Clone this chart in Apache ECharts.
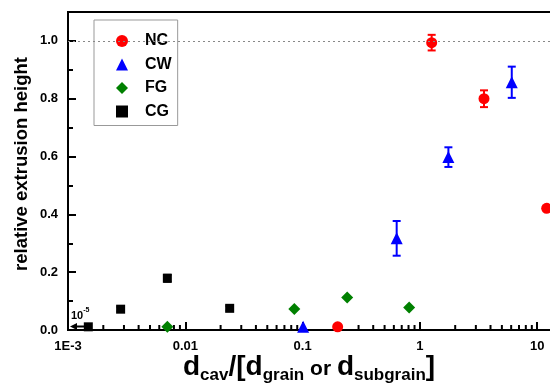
<!DOCTYPE html>
<html>
<head>
<meta charset="utf-8">
<script src="https://cdn.jsdelivr.net/npm/echarts@6/dist/echarts.min.js"></script>
<style>
  html, body { margin: 0; padding: 0; background: #fff; }
  #chart { width: 550px; height: 389px; }
</style>
</head>
<body>
<div id="chart"></div>
<script>
// data
var ncX = [1.26, 3.52, 12.05, 0.199];
var ncY = [0.994, 0.80, 0.421, 0.011];
var ncErr = [0.027, 0.029, 0.008, 0];

var cwX = [1.75, 6.07, 0.634, 0.101];
var cwY = [0.598, 0.857, 0.317, 0.011];
var cwErr = [0.034, 0.054, 0.06, 0];

var fgX = [0.085, 0.240, 0.81, 0.00703];
var fgY = [0.073, 0.112, 0.078, 0.011];
var fgErr = [0, 0, 0, 0];

var cgX = [0.00149, 0.00281, 0.00703, 0.0239];
var cgY = [0.011, 0.072, 0.179, 0.075];
var cgErr = [0, 0.008, 0.012, 0.008];

var xTickLabels = {'0.001': '1E-3', '0.01': '0.01', '0.1': '0.1', '1': '1', '10': '10'};
var decades = [0.001, 0.01, 0.1, 1, 10];
var minorSteps = [2, 3, 4, 5, 6, 7, 8, 9];

var font = 'Arial, "Liberation Sans", sans-serif';

(function(){
    var myChart = echarts.init(document.getElementById('chart'));

    function pairs(xs, ys){
        var out = [];
        for (var i = 0; i < xs.length; i++) out.push([xs[i], ys[i]]);
        return out;
    }
    function triples(xs, ys, es){
        var out = [];
        for (var i = 0; i < xs.length; i++) out.push([xs[i], ys[i], es[i]]);
        return out;
    }

    // minor tick positions on the log axis
    var minorTicks = [];
    for (var d of decades){
        for (var s of minorSteps) minorTicks.push([d * s, 0]);
    }

    function errorBar(color){
        return function(params, api){
            var x = api.value(0), y = api.value(1), e = api.value(2);
            if (!e) return null;
            var top = api.coord([x, y + e]);
            var bot = api.coord([x, y - e]);
            var style = {stroke: color, lineWidth: 2};
            return {
                type: 'group',
                children: [
                    {type: 'line', shape: {x1: top[0], y1: top[1], x2: bot[0], y2: bot[1]}, style: style},
                    {type: 'line', shape: {x1: top[0] - 4, y1: top[1], x2: top[0] + 4, y2: top[1]}, style: style},
                    {type: 'line', shape: {x1: bot[0] - 4, y1: bot[1], x2: bot[0] + 4, y2: bot[1]}, style: style}
                ]
            };
        };
    }

    function errSeries(name, xs, ys, es, color){
        return {
            name: name + '_err',
            type: 'custom',
            renderItem: errorBar(color),
            data: triples(xs, ys, es),
            z: 3,
            silent: true
        };
    }

    function markSeries(name, xs, ys, color, symbol, size){
        return {
            name: name,
            type: 'scatter',
            symbol: symbol,
            symbolSize: size,
            itemStyle: {color: color, opacity: 1},
            data: pairs(xs, ys),
            z: 4
        };
    }

    var option = {
        animation: false,
        grid: {
            left: 68, top: 12, right: -22.5, bottom: 59,
            outerBoundsMode: 'none',
            containLabel: false,
            show: true, borderColor: '#000', borderWidth: 2
        },
        legend: {
            orient: 'vertical',
            left: 94, top: 20,
            data: ['NC', 'CW', 'FG', 'CG'],
            backgroundColor: '#fff',
            borderColor: '#999',
            borderWidth: 1,
            padding: [13, 6, 6, 22],
            itemWidth: 12, itemHeight: 12,
            itemGap: 7.5,
            textStyle: {fontFamily: font, fontWeight: 'bold', fontSize: 16, color: '#000', lineHeight: 16, padding: [0, 0, 0, 12]},
            selectedMode: false
        },
        xAxis: {
            type: 'log',
            logBase: 10,
            min: 0.001,
            max: 20,
            axisLine: {show: true, onZero: false, lineStyle: {color: '#000', width: 2}},
            axisTick: {show: true, inside: true, length: 8, lineStyle: {color: '#000', width: 2}},
            splitLine: {show: false},
            axisLabel: {
                margin: 10,
                fontFamily: font, fontWeight: 'bold', fontSize: 13, color: '#000',
                formatter: function(v){
                    var k = String(+(+v).toPrecision(3));
                    return xTickLabels[k] !== undefined ? xTickLabels[k] : '';
                }
            }
        },
        yAxis: {
            type: 'value',
            min: 0, max: 1.1, interval: 0.2,
            axisLine: {show: true, lineStyle: {color: '#000', width: 2}},
            axisTick: {show: true, inside: true, length: 8, lineStyle: {color: '#000', width: 2}},
            minorTick: {show: true, splitNumber: 2, length: 5, lineStyle: {color: '#000', width: 2}},
            splitLine: {show: false},
            axisLabel: {
                margin: 10, showMaxLabel: false,
                fontFamily: font, fontWeight: 'bold', fontSize: 13, color: '#000',
                formatter: function(v){ return v.toFixed(1); }
            }
        },
        graphic: [
            {
                type: 'text',
                x: 22, y: 164,
                rotation: Math.PI / 2,
                style: {
                    text: 'relative extrusion height',
                    fontFamily: font, fontWeight: 'bold', fontSize: 18.5, fill: '#000',
                    align: 'center', verticalAlign: 'middle'
                }
            },
            {
                type: 'text',
                left: 183, top: 351,
                style: {
                    text: '{b|d}{s|cav}{b|/[d}{s|grain}{m| or }{b|d}{s|subgrain}{b|]}',
                    rich: {
                        b: {fontFamily: font, fontWeight: 'bold', fontSize: 28, lineHeight: 31, verticalAlign: 'top', fill: '#000'},
                        m: {fontFamily: font, fontWeight: 'bold', fontSize: 21, lineHeight: 23, padding: [6, 0, 0, 0], verticalAlign: 'top', fill: '#000'},
                        s: {fontFamily: font, fontWeight: 'bold', fontSize: 17, lineHeight: 17, padding: [16, 0, 0, 0], verticalAlign: 'bottom', fill: '#000'}
                    }
                }
            },
            {
                type: 'text',
                left: 71, top: 307,
                style: {
                    text: '{n|10}{e|-5}',
                    rich: {
                        n: {fontFamily: font, fontWeight: 'bold', fontSize: 11, lineHeight: 14, verticalAlign: 'bottom', fill: '#000'},
                        e: {fontFamily: font, fontWeight: 'bold', fontSize: 7, lineHeight: 7, verticalAlign: 'top', fill: '#000'}
                    }
                }
            },
            {
                type: 'line',
                shape: {x1: 86, y1: 326.5, x2: 74, y2: 326.5},
                style: {stroke: '#000', lineWidth: 2}
            },
            {
                type: 'polygon',
                shape: {points: [[70, 326.5], [77, 323], [77, 330]]},
                style: {fill: '#000'}
            }
        ],
        series: [
            {
                name: 'minor',
                type: 'custom',
                silent: true,
                renderItem: function(params, api){
                    var p = api.coord([api.value(0), 0]);
                    return {type: 'line', shape: {x1: p[0], y1: p[1], x2: p[0], y2: p[1] - 5}, style: {stroke: '#000', lineWidth: 2}};
                },
                data: minorTicks,
                z: 1
            },
            markSeries('NC', ncX, ncY, '#ff0000', 'circle', 11),
            markSeries('CW', cwX, cwY, '#0000ff', 'triangle', 12),
            markSeries('FG', fgX, fgY, '#008000', 'diamond', 12),
            markSeries('CG', cgX, cgY, '#000000', 'rect', 9),
            errSeries('NC', ncX, ncY, ncErr, '#ff0000'),
            errSeries('CW', cwX, cwY, cwErr, '#0000ff'),
            errSeries('FG', fgX, fgY, fgErr, '#008000'),
            errSeries('CG', cgX, cgY, cgErr, '#000000'),
            {
                name: 'ref',
                type: 'line',
                data: [],
                markLine: {
                    silent: true,
                    symbol: 'none',
                    label: {show: false},
                    lineStyle: {color: '#888', type: [2, 3], width: 1},
                    data: [{yAxis: 1.0}]
                }
            }
        ]
    };

    myChart.setOption(option);
})();
</script>
</body>
</html>
